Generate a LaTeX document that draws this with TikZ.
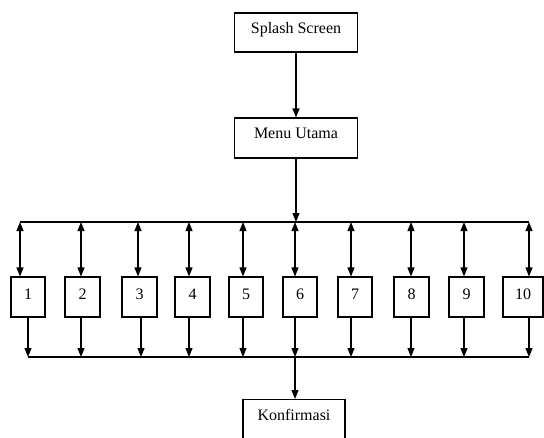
\documentclass[tikz,border=0pt]{standalone}
\usepackage{fontspec}
\setmainfont{Liberation Serif}
\usetikzlibrary{arrows.meta}

\begin{document}
\begin{tikzpicture}[x=1pt,y=-1pt]
    \tikzset{kotak/.style={draw, line width=1.1pt, inner sep=0pt,
            text height=10pt, text depth=9pt, font=\fontsize{16}{19}\selectfont},
        garis/.style={line width=1.1pt},
        panah/.style={garis, -{Triangle[length=9pt,width=7pt]}},
        dua/.style={garis, {Triangle[length=9pt,width=7pt]}-{Triangle[length=9pt,width=7pt]}}}

    \useasboundingbox (0,0) rectangle (544,437);

    \node[kotak, minimum width=123, minimum height=39] (splash) at (296,32.5) {Splash Screen};
    \node[kotak, minimum width=123, minimum height=40] (menu) at (296,138) {Menu Utama};
    \node[kotak, minimum width=102, text height=21pt, text depth=30pt, anchor=north] (konf) at (294,399) {Konfirmasi};

    \draw[panah] (splash) -- (menu);

    % menu pilihan 1..10
    \foreach \i/\cx/\w/\tx/\bx in {1/28/34/20/28, 2/82.5/35/81/81, 3/139.5/35/138/141,
            4/192.5/35/189/189, 5/246/34/243/243, 6/300/34/295/295, 7/355/34/351/351,
            8/411.5/35/411/411, 9/466.5/35/464/464, 10/523/40/529/529} {
        \node[kotak, minimum width=\w, minimum height=40, text depth=6pt] (b\i) at (\cx,297) {\i};
        \coordinate (t\i) at (\tx,222);
        \coordinate (u\i) at (\bx,357);
        \draw[dua] (t\i) -- (t\i |- b\i.north);
        \draw[panah] (u\i |- b\i.south) -- (u\i);
    }

    \draw[garis] (t1) -- (t10);
    \draw[garis] (u1) -- (u10);

    \draw[panah] (menu) -- (menu.south |- t6);
    \draw[panah] (u6) -- (u6 |- konf.north);

\end{tikzpicture}
\end{document}
